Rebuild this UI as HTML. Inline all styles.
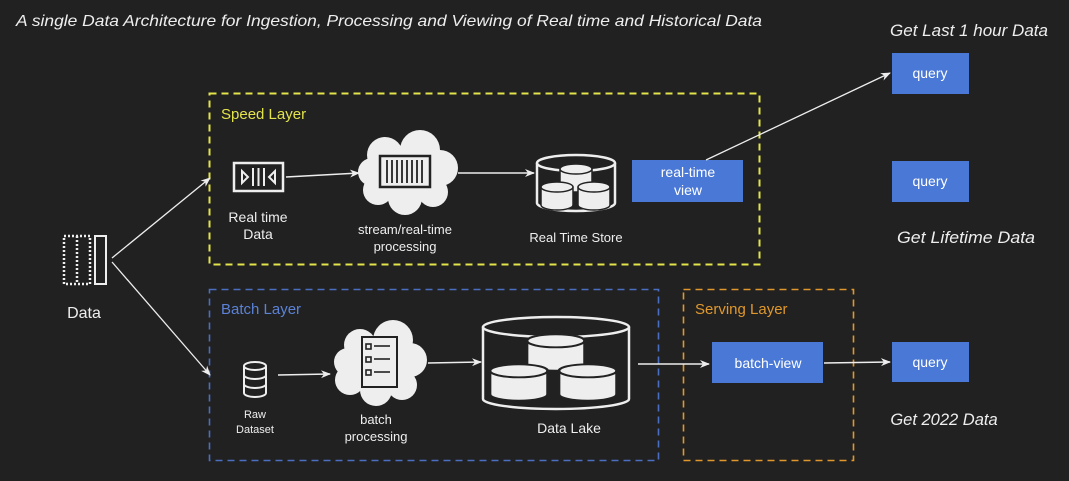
<!DOCTYPE html>
<html><head><meta charset="utf-8"><style>
html,body{margin:0;padding:0;background:#212121;}
svg{display:block}
text{font-family:"Liberation Sans",sans-serif;}
</style></head><body>
<svg width="1069" height="481" viewBox="0 0 1069 481" xmlns="http://www.w3.org/2000/svg">
<defs>
<marker id="a" markerWidth="10" markerHeight="8" refX="9" refY="4" orient="auto" markerUnits="userSpaceOnUse"><path d="M0,0 L10,4 L0,8 L3,4 Z" fill="#eee"/></marker>
<g id="cyl"><path d="M0,6 v18 a16,5 0 0 0 32,0 v-18" fill="#eee" stroke="#222" stroke-width="1.5"/><ellipse cx="16" cy="6" rx="16" ry="5" fill="#eee" stroke="#222" stroke-width="1.5"/></g>
</defs>
<rect width="1069" height="481" fill="#212121"/>
<text x="16" y="26" font-size="16" font-style="italic" fill="#eee" textLength="746" lengthAdjust="spacingAndGlyphs">A single Data Architecture for Ingestion, Processing and Viewing of Real time and Historical Data</text>
<text x="969" y="36" font-size="16.5" font-style="italic" fill="#eee" text-anchor="middle" textLength="158" lengthAdjust="spacingAndGlyphs">Get Last 1 hour Data</text>
<text x="966" y="243" font-size="17" font-style="italic" fill="#eee" text-anchor="middle" textLength="138" lengthAdjust="spacingAndGlyphs">Get Lifetime Data</text>
<text x="944" y="425" font-size="16.5" font-style="italic" fill="#eee" text-anchor="middle">Get 2022 Data</text>

<rect x="209.5" y="93.5" width="550" height="171" fill="none" stroke="#e3e34a" stroke-width="2" stroke-dasharray="7,5"/>
<text x="221" y="119" font-size="15" fill="#e3e34a">Speed Layer</text>
<rect x="209.5" y="289.5" width="449" height="171" fill="none" stroke="#4a6fc0" stroke-width="1.6" stroke-dasharray="7,5"/>
<text x="221" y="314" font-size="15" fill="#5b82d6">Batch Layer</text>
<rect x="683.5" y="289.5" width="170" height="171" fill="none" stroke="#e0982c" stroke-width="1.6" stroke-dasharray="7,5"/>
<text x="695" y="314" font-size="15" fill="#e0982c">Serving Layer</text>

<rect x="64" y="236" width="26" height="48" fill="none" stroke="#eee" stroke-width="2.5" stroke-dasharray="2,2"/>
<line x1="77" y1="236" x2="77" y2="284" stroke="#eee" stroke-width="2.5" stroke-dasharray="2,2"/>
<rect x="95" y="236" width="11" height="48" fill="none" stroke="#eee" stroke-width="2"/>
<text x="84" y="318" font-size="16" fill="#eee" text-anchor="middle">Data</text>
<line x1="112" y1="258" x2="210" y2="178" stroke="#eee" stroke-width="1.3" marker-end="url(#a)"/>
<line x1="112" y1="262" x2="210" y2="375" stroke="#eee" stroke-width="1.3" marker-end="url(#a)"/>

<rect x="234" y="163" width="49" height="28" fill="none" stroke="#eee" stroke-width="2.5"/>
<path d="M242,171 v12 l6,-6 z" fill="none" stroke="#eee" stroke-width="2"/>
<path d="M275,171 v12 l-6,-6 z" fill="none" stroke="#eee" stroke-width="2"/>
<line x1="253" y1="168" x2="253" y2="186" stroke="#eee" stroke-width="2"/>
<line x1="258.5" y1="168" x2="258.5" y2="186" stroke="#eee" stroke-width="2"/>
<line x1="264" y1="168" x2="264" y2="186" stroke="#eee" stroke-width="2"/>
<text x="258" y="222" font-size="14" fill="#eee" text-anchor="middle">Real time</text>
<text x="258" y="239" font-size="14" fill="#eee" text-anchor="middle">Data</text>
<line x1="286" y1="177" x2="359" y2="173" stroke="#eee" stroke-width="1.5" marker-end="url(#a)"/>

<g fill="#eee">
<circle cx="385" cy="155" r="18"/><circle cx="420" cy="150" r="20"/><circle cx="440" cy="168" r="18"/><circle cx="433" cy="192" r="15"/><circle cx="405" cy="198" r="17"/><circle cx="378" cy="190" r="15"/><circle cx="372" cy="172" r="14"/><circle cx="405" cy="172" r="25"/>
</g>
<rect x="380" y="156" width="50" height="31" fill="none" stroke="#222" stroke-width="2.5"/>
<g stroke="#222" stroke-width="1.8"><line x1="387" y1="160" x2="387" y2="183"/><line x1="392" y1="160" x2="392" y2="183"/><line x1="397" y1="160" x2="397" y2="183"/><line x1="402" y1="160" x2="402" y2="183"/><line x1="407" y1="160" x2="407" y2="183"/><line x1="412" y1="160" x2="412" y2="183"/><line x1="417" y1="160" x2="417" y2="183"/><line x1="422" y1="160" x2="422" y2="183"/></g>
<text x="405" y="234" font-size="13" fill="#eee" text-anchor="middle">stream/real-time</text>
<text x="405" y="251" font-size="13" fill="#eee" text-anchor="middle">processing</text>
<line x1="458" y1="173" x2="534" y2="173" stroke="#eee" stroke-width="1.5" marker-end="url(#a)"/>

<path d="M537,163 v40 a39,8 0 0 0 78,0 v-40" fill="none" stroke="#eee" stroke-width="2.5"/>
<ellipse cx="576" cy="163" rx="39" ry="8" fill="#212121" stroke="#eee" stroke-width="2.5"/>
<use href="#cyl" x="560" y="163"/>
<use href="#cyl" x="541" y="181"/>
<use href="#cyl" x="578" y="181"/>
<text x="576" y="242" font-size="13" fill="#eee" text-anchor="middle">Real Time Store</text>

<rect x="632" y="160" width="111" height="42" fill="#4a78d6"/>
<text x="688" y="177" font-size="14" fill="#fff" text-anchor="middle">real-time</text>
<text x="688" y="195" font-size="14" fill="#fff" text-anchor="middle">view</text>
<line x1="706" y1="160" x2="890" y2="73" stroke="#eee" stroke-width="1.3" marker-end="url(#a)"/>

<rect x="892" y="53" width="77" height="41" fill="#4a78d6"/>
<text x="930" y="78" font-size="14" fill="#fff" text-anchor="middle">query</text>
<rect x="892" y="161" width="77" height="41" fill="#4a78d6"/>
<text x="930" y="186" font-size="14" fill="#fff" text-anchor="middle">query</text>
<rect x="892" y="342" width="77" height="40" fill="#4a78d6"/>
<text x="930" y="367" font-size="14" fill="#fff" text-anchor="middle">query</text>

<g fill="none" stroke="#eee" stroke-width="2">
<path d="M244,366 v27 a11,4 0 0 0 22,0 v-27"/><ellipse cx="255" cy="366" rx="11" ry="4"/>
<path d="M244,375 a11,4 0 0 0 22,0 M244,384 a11,4 0 0 0 22,0"/>
</g>
<text x="255" y="418" font-size="11" fill="#eee" text-anchor="middle">Raw</text>
<text x="255" y="433" font-size="11" fill="#eee" text-anchor="middle">Dataset</text>
<line x1="278" y1="375" x2="330" y2="374" stroke="#eee" stroke-width="1.5" marker-end="url(#a)"/>

<g fill="#eee">
<circle cx="360" cy="345" r="16"/><circle cx="393" cy="340" r="20"/><circle cx="410" cy="360" r="17"/><circle cx="402" cy="385" r="15"/><circle cx="376" cy="390" r="16"/><circle cx="350" cy="380" r="15"/><circle cx="348" cy="362" r="14"/><circle cx="378" cy="364" r="25"/>
</g>
<rect x="362" y="337" width="35" height="50" fill="none" stroke="#222" stroke-width="2"/>
<g fill="none" stroke="#222" stroke-width="1.6"><rect x="366" y="344" width="5" height="5"/><rect x="366" y="357" width="5" height="5"/><rect x="366" y="370" width="5" height="5"/><line x1="374" y1="346" x2="390" y2="346"/><line x1="374" y1="359" x2="390" y2="359"/><line x1="374" y1="372" x2="390" y2="372"/></g>
<text x="376" y="424" font-size="13" fill="#eee" text-anchor="middle">batch</text>
<text x="376" y="441" font-size="13" fill="#eee" text-anchor="middle">processing</text>
<line x1="428" y1="363" x2="481" y2="362" stroke="#eee" stroke-width="1.5" marker-end="url(#a)"/>

<path d="M483,327 v72 a73,10 0 0 0 146,0 v-72" fill="none" stroke="#eee" stroke-width="2.5"/>
<ellipse cx="556" cy="327" rx="73" ry="10" fill="#212121" stroke="#eee" stroke-width="2.5"/>
<g transform="translate(527,333) scale(1.8,1.3)"><use href="#cyl"/></g>
<g transform="translate(490,363) scale(1.8,1.3)"><use href="#cyl"/></g>
<g transform="translate(559,363) scale(1.8,1.3)"><use href="#cyl"/></g>
<text x="569" y="433" font-size="14" fill="#eee" text-anchor="middle">Data Lake</text>
<line x1="638" y1="364" x2="709" y2="364" stroke="#eee" stroke-width="1.5" marker-end="url(#a)"/>

<rect x="712" y="342" width="111" height="41" fill="#4a78d6"/>
<text x="768" y="368" font-size="14" fill="#fff" text-anchor="middle">batch-view</text>
<line x1="824" y1="363" x2="890" y2="362" stroke="#eee" stroke-width="1.5" marker-end="url(#a)"/>
</svg>
</body></html>
